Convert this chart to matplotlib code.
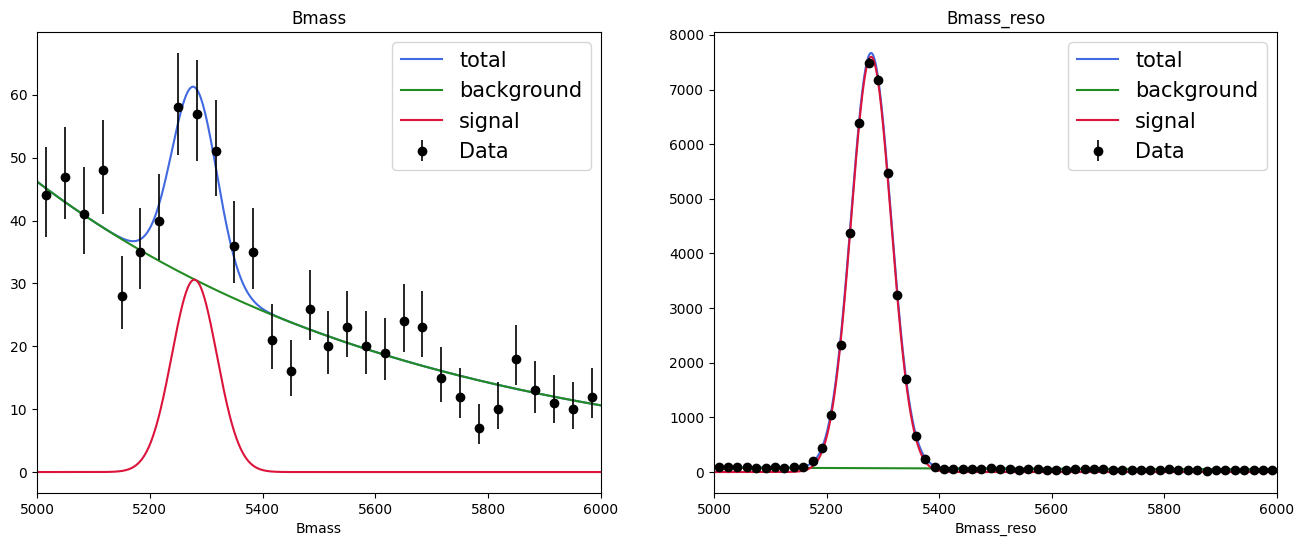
import numpy as np
import matplotlib
matplotlib.use("Agg")
import matplotlib.pyplot as plt

# ---------------- data: left panel (Bmass) ----------------
bmass_edges_lo, bmass_edges_hi, bmass_nbins = 5000.0, 6000.0, 30
bmass_counts = [44, 47, 41, 48, 28, 35, 40, 58, 57, 51, 36, 35, 21, 16, 26,
                20, 23, 20, 19, 24, 23, 15, 12, 7, 10, 18, 13, 11, 10, 12]
bmass_err_lo = [6.61, 6.83, 6.37, 6.90, 5.26, 5.88, 6.30, 7.59, 7.52, 7.12,
                5.97, 5.88, 4.54, 3.95, 5.06, 4.43, 4.76, 4.43, 4.32, 4.86,
                4.76, 3.83, 3.41, 2.58, 3.10, 4.20, 3.55, 3.26, 3.10, 3.41]
bmass_err_hi = [7.68, 7.90, 7.45, 7.97, 6.35, 6.97, 7.37, 8.66, 8.59, 8.19,
                7.05, 6.97, 5.65, 5.08, 6.16, 5.54, 5.86, 5.54, 5.43, 5.96,
                5.86, 4.95, 4.55, 3.76, 4.26, 5.32, 4.69, 4.41, 4.26, 4.55]
# fitted model parameters (left)
bmass_sig_amp, bmass_sig_mu, bmass_sig_sigma = 30.6, 5279.0, 40.0
bmass_bkg_at_lo, bmass_bkg_at_hi = 46.2, 10.6

# ---------------- data: right panel (Bmass_reso) ----------------
reso_nbins = 60
reso_counts = [88, 90, 87, 86, 74, 75, 88, 72, 85, 100,
               200, 437, 1038, 2330, 4370, 6380, 7490, 7175, 5480, 3240,
               1695, 655, 237, 88, 62, 55, 52, 50, 55, 78,
               58, 56, 45, 57, 55, 42, 44, 46, 56, 54,
               55, 62, 45, 44, 46, 43, 44, 45, 60, 44,
               42, 43, 22, 42, 44, 41, 43, 42, 42, 40]
reso_sig_amp, reso_sig_mu, reso_sig_sigma = 7600.0, 5279.0, 35.5
reso_bkg_at_lo, reso_bkg_at_hi = 82.0, 48.0

panel_titles = ["Bmass", "Bmass_reso"]
legend_labels = ["total", "background", "signal", "Data"]
color_total, color_bkg, color_sig = "royalblue", "forestgreen", "crimson"


def bin_centers(lo, hi, n):
    edges = np.linspace(lo, hi, n + 1)
    return 0.5 * (edges[:-1] + edges[1:])


def model(x, amp, mu, sigma, b_lo, b_hi, lo, hi):
    slope = np.log(b_hi / b_lo) / (hi - lo)
    bkg = b_lo * np.exp(slope * (x - lo))
    sig = amp * np.exp(-0.5 * ((x - mu) / sigma) ** 2)
    return bkg + sig, bkg, sig


fig = plt.figure(figsize=(13.04, 5.47), dpi=100)
W, H = 1304.0, 547.0
ax1 = fig.add_axes([37 / W, 54 / H, 564 / W, 461 / H])
ax2 = fig.add_axes([714 / W, 54 / H, 563 / W, 461 / H])

xs = np.linspace(bmass_edges_lo, bmass_edges_hi, 1000)

# left panel
tot, bkg, sig = model(xs, bmass_sig_amp, bmass_sig_mu, bmass_sig_sigma,
                      bmass_bkg_at_lo, bmass_bkg_at_hi,
                      bmass_edges_lo, bmass_edges_hi)
ax1.plot(xs, tot, color=color_total, lw=1.5, label=legend_labels[0])
ax1.plot(xs, bkg, color=color_bkg, lw=1.5, label=legend_labels[1])
ax1.plot(xs, sig, color=color_sig, lw=1.5, label=legend_labels[2])
xc1 = bin_centers(bmass_edges_lo, bmass_edges_hi, bmass_nbins)
ax1.errorbar(xc1, bmass_counts, yerr=[bmass_err_lo, bmass_err_hi], fmt="o",
             color="black", ms=6, elinewidth=1.2, label=legend_labels[3])
ax1.set_xlim(bmass_edges_lo, bmass_edges_hi)
ax1.set_title(panel_titles[0])
ax1.set_xlabel(panel_titles[0])
ax1.legend(loc="upper right", fontsize=15)

# right panel
tot2, bkg2, sig2 = model(xs, reso_sig_amp, reso_sig_mu, reso_sig_sigma,
                         reso_bkg_at_lo, reso_bkg_at_hi,
                         bmass_edges_lo, bmass_edges_hi)
ax2.plot(xs, tot2, color=color_total, lw=1.5, label=legend_labels[0])
ax2.plot(xs, bkg2, color=color_bkg, lw=1.5, label=legend_labels[1])
ax2.plot(xs, sig2, color=color_sig, lw=1.5, label=legend_labels[2])
xc2 = bin_centers(bmass_edges_lo, bmass_edges_hi, reso_nbins)
ax2.errorbar(xc2, reso_counts, yerr=np.sqrt(reso_counts), fmt="o",
             color="black", ms=6, elinewidth=1.2, label=legend_labels[3])
ax2.set_xlim(bmass_edges_lo, bmass_edges_hi)
ax2.set_title(panel_titles[1])
ax2.set_xlabel(panel_titles[1])
ax2.legend(loc="upper right", fontsize=15)

fig.savefig("out.png", dpi=100)
